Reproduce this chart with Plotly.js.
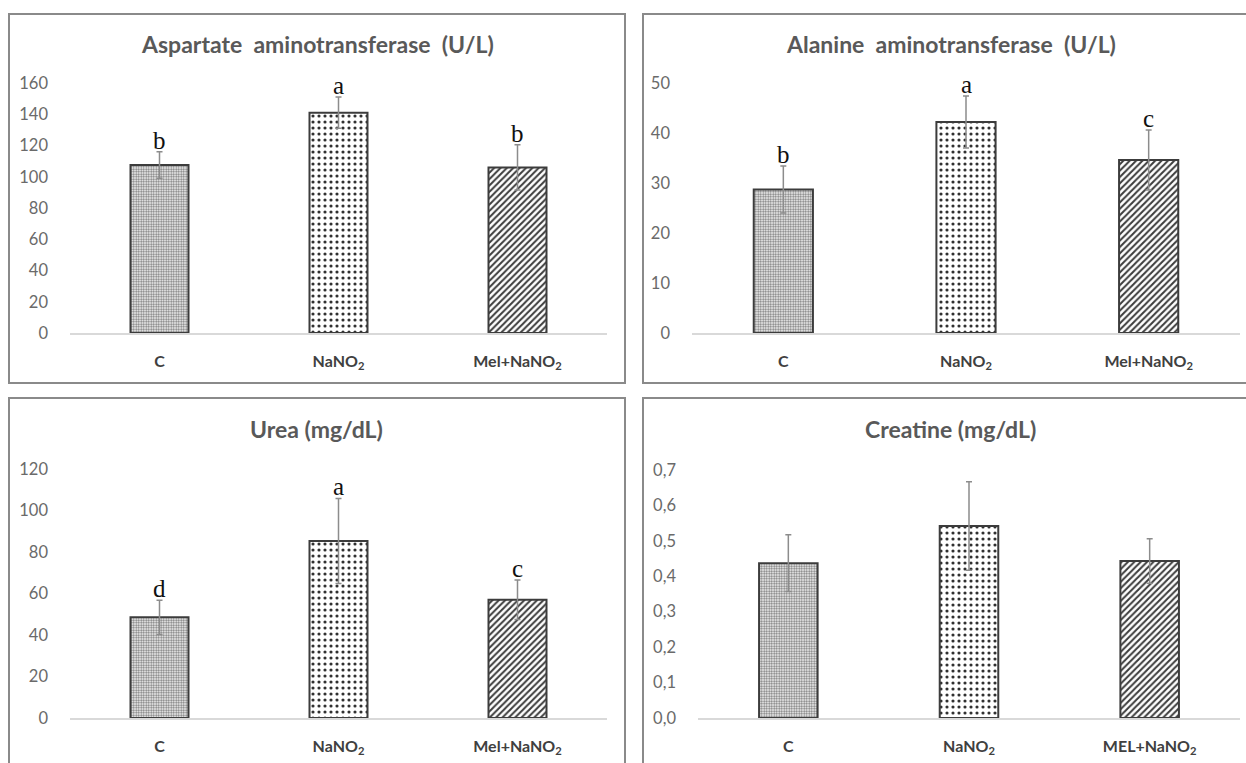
<!DOCTYPE html>
<html>
<head>
<meta charset="utf-8">
<script src="https://cdn.plot.ly/plotly-3.0.1.min.js"></script>
<style>html,body{margin:0;padding:0;background:#fff;}#chart{width:1246px;height:763px;}</style>
</head>
<body>
<div id="chart"></div>
<script>
// ---- data ----
const categories = ['C', 'NaNO<sub>2</sub>', 'Mel+NaNO<sub>2</sub>'];
const categoriesCre = ['C', 'NaNO<sub>2</sub>', 'MEL+NaNO<sub>2</sub>'];

const astTitle = 'Aspartate\u00a0 aminotransferase\u00a0 (U/L)';
const astMean = [107.5, 141, 106];
const astSD = [8.5, 10, 14.5];
const astLetters = ['b', 'a', 'b'];
const astTicks = [0, 20, 40, 60, 80, 100, 120, 140, 160];

const altTitle = 'Alanine\u00a0 aminotransferase\u00a0 (U/L)';
const altMean = [28.7, 42.2, 34.6];
const altSD = [4.7, 5.2, 6.0];
const altLetters = ['b', 'a', 'c'];
const altTicks = [0, 10, 20, 30, 40, 50];

const ureaTitle = 'Urea (mg/dL)';
const ureaMean = [48.5, 85.3, 57.0];
const ureaSD = [8.3, 20.5, 9.5];
const ureaLetters = ['d', 'a', 'c'];
const ureaTicks = [0, 20, 40, 60, 80, 100, 120];

const creTitle = 'Creatine (mg/dL)';
const creMean = [0.437, 0.542, 0.443];
const creSD = [0.08, 0.125, 0.063];
const creLetters = ['', '', ''];
const creTicks = [0, 0.1, 0.2, 0.3, 0.4, 0.5, 0.6, 0.7];

// ---- layout helpers ----
const W = 1246, H = 763;
const px = v => v / W;
const py = v => 1 - v / H;

const sans = 'Lato, "Open Sans", sans-serif';
const patternShapes = ['.', '.', '/'];
const patternSizes = [2.5, 6, 4.5];
const patternSolidity = [0.5, 0.22, 0.45];
const patternFg = ['#7a7a7a', '#303030', '#3c3c3c'];

const panels = [
  {cats: categories, mean: astMean, sd: astSD, letters: astLetters, ticks: astTicks, title: astTitle,
   x0: 70, x1: 607, yTop: 83, yBot: 333, frame: [9, 14, 625, 383], titleX: 317, titleY: 44, fmt: 'd'},
  {cats: categories, mean: altMean, sd: altSD, letters: altLetters, ticks: altTicks, title: altTitle,
   x0: 692, x1: 1240, yTop: 83, yBot: 333, frame: [643, 14, 1252, 383], titleX: 951, titleY: 44, fmt: 'd'},
  {cats: categories, mean: ureaMean, sd: ureaSD, letters: ureaLetters, ticks: ureaTicks, title: ureaTitle,
   x0: 70, x1: 607, yTop: 469, yBot: 718, frame: [9, 398, 625, 770], titleX: 316, titleY: 429, fmt: 'd'},
  {cats: categoriesCre, mean: creMean, sd: creSD, letters: creLetters, ticks: creTicks, title: creTitle,
   x0: 698, x1: 1240, yTop: 470, yBot: 718, frame: [643, 398, 1252, 770], titleX: 950, titleY: 429, fmt: '.1f'}
];

const data = [];
const layout = {
  width: W, height: H,
  margin: {l: 0, r: 0, t: 0, b: 0},
  paper_bgcolor: '#ffffff', plot_bgcolor: 'rgba(0,0,0,0)',
  showlegend: false,
  bargap: 0.676,
  separators: ', ',
  shapes: [], annotations: []
};

panels.forEach((p, i) => {
  const n = i + 1;
  const xa = n === 1 ? 'x' : 'x' + n;
  const ya = n === 1 ? 'y' : 'y' + n;
  data.push({
    type: 'bar', x: p.cats, y: p.mean, xaxis: xa, yaxis: ya,
    marker: {
      color: '#ffffff',
      line: {color: '#3c3c3c', width: 2},
      pattern: {shape: patternShapes, size: patternSizes, solidity: patternSolidity,
                fgcolor: patternFg, bgcolor: '#ffffff', fillmode: 'replace'}
    },
    error_y: {type: 'data', array: p.sd, visible: true, color: '#8c8c8c', thickness: 1.5, width: 3},
    hoverinfo: 'skip'
  });
  const top = p.ticks[p.ticks.length - 1];
  layout['xaxis' + (n === 1 ? '' : n)] = {
    domain: [px(p.x0), px(p.x1)], anchor: ya,
    showline: true, linecolor: '#d9d9d9', linewidth: 1.5,
    showgrid: false, zeroline: false, ticks: '', fixedrange: true,
    tickfont: {family: sans, size: 16, color: '#404040', weight: 'bold'},
    ticklabelstandoff: 13
  };
  layout['yaxis' + (n === 1 ? '' : n)] = {
    domain: [py(p.yBot), py(p.yTop)], anchor: xa,
    range: [0, top], tickvals: p.ticks, tickformat: p.fmt,
    showline: false, showgrid: false, zeroline: false, ticks: '', fixedrange: true,
    tickfont: {family: sans, size: 16.5, color: '#6a6a6a'},
    ticklabelstandoff: 21
  };
  layout.shapes.push({type: 'rect', xref: 'paper', yref: 'paper',
    x0: px(p.frame[0]), x1: px(p.frame[2]), y0: py(p.frame[3]), y1: py(p.frame[1]),
    line: {color: '#8a8a8a', width: 2}, fillcolor: 'rgba(0,0,0,0)', layer: 'below'});
  layout.annotations.push({xref: 'paper', yref: 'paper', x: px(p.titleX), y: py(p.titleY),
    xanchor: 'center', yanchor: 'middle', showarrow: false, text: p.title,
    font: {family: sans, size: 23, color: '#595959', weight: 'bold'}});
  p.letters.forEach((l, k) => {
    if (!l) return;
    layout.annotations.push({xref: xa, yref: ya, x: p.cats[k], y: p.mean[k] + p.sd[k],
      xanchor: 'center', yanchor: 'bottom', showarrow: false, text: l, yshift: -4,
      font: {family: '"Liberation Serif", "Times New Roman", serif', size: 25, color: '#111111'}});
  });
});

Plotly.newPlot('chart', data, layout, {displayModeBar: false, staticPlot: true});
</script>
</body>
</html>
